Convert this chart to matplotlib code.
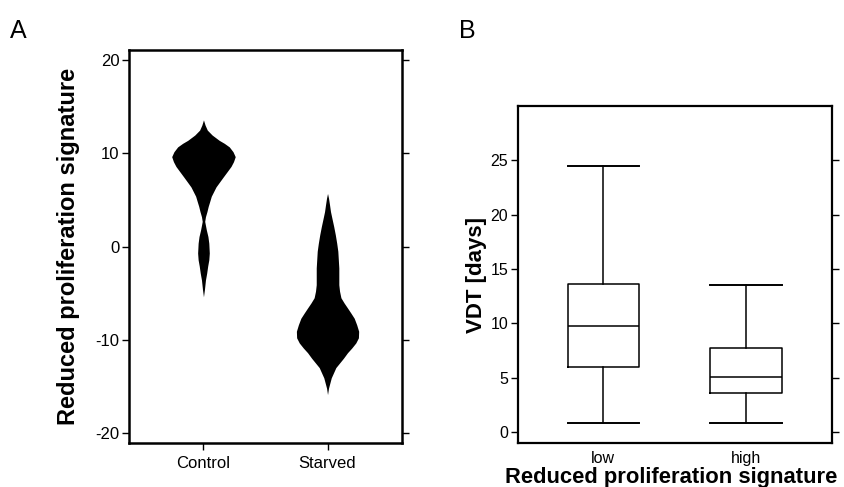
import matplotlib
matplotlib.use("Agg")
import matplotlib.pyplot as plt

plt.rcParams["font.family"] = ["Liberation Sans", "DejaVu Sans"]
plt.rcParams["axes.unicode_minus"] = False

# --- panel A: violin outlines (value, half-width in category units) ---
groups_a = ["Control", "Starved"]

control_y = [13.6, 13.04, 12.5, 11.97, 11.4, 11.08, 10.7, 10.18, 9.65, 9.11,
             8.6, 8.04, 7.5, 6.97, 6.4, 5.9, 5.4, 4.82, 4.3, 3.75, 3.2, 2.7,
             1.8, 1.07, 0.36, -0.7, -1.43, -2.1, -2.85, -3.6, -4.1, -4.6, -5.4]
control_hw = [0.0, 0.013, 0.031, 0.07, 0.127, 0.168, 0.208, 0.238, 0.256,
              0.242, 0.222, 0.191, 0.161, 0.132, 0.101, 0.082, 0.063, 0.05,
              0.038, 0.028, 0.016, 0.010, 0.023, 0.036, 0.043, 0.047, 0.043,
              0.034, 0.026, 0.016, 0.012, 0.008, 0.0]

starved_y = [5.7, 5.2, 4.5, 3.75, 3.0, 2.14, 1.25, 0.36, -0.5, -2.3, -4.1,
             -4.8, -5.5, -6.07, -6.6, -7.14, -7.7, -8.4, -9.1, -9.8, -10.35,
             -10.9, -11.4, -12.0, -13.0, -14.1, -15.2, -15.9]
starved_hw = [0.0, 0.008, 0.016, 0.024, 0.036, 0.05, 0.063, 0.074, 0.083,
              0.091, 0.091, 0.097, 0.108, 0.134, 0.161, 0.188, 0.215, 0.235,
              0.251, 0.249, 0.228, 0.195, 0.161, 0.128, 0.067, 0.030, 0.008,
              0.0]

# --- panel B: VDT box summaries ---
groups_b = ["low", "high"]
whislo = [0.86, 0.86]
q1 = [5.95, 3.6]
med = [9.8, 5.1]
q3 = [13.6, 7.75]
whishi = [24.5, 13.5]

fig = plt.figure(figsize=(8.45, 4.87), dpi=100)

# ---------------- A ----------------
ax1 = fig.add_axes([0.1527, 0.0903, 0.3230, 0.8070])
for pos, ys, hws in [(1, control_y, control_hw), (2, starved_y, starved_hw)]:
    left = [pos - h for h in hws]
    right = [pos + h for h in hws]
    ax1.fill_betweenx(ys, left, right, color="black", lw=0)

ax1.set_xlim(0.4, 2.6)
ax1.set_ylim(-21.1, 21.1)
ax1.set_xticks([1, 2])
ax1.set_xticklabels(groups_a, fontsize=12)
ax1.set_yticks([-20, -10, 0, 10, 20])
ax1.tick_params(axis="y", which="both", left=True, right=True, direction="out",
                length=5, width=1, labelsize=12, pad=2)
ax1.tick_params(axis="x", direction="out", length=5, width=1, pad=4)
for s in ax1.spines.values():
    s.set_linewidth(1.8)
ax1.set_ylabel("Reduced proliferation signature", fontsize=17,
               fontweight="bold")
ax1.yaxis.set_label_coords(-0.18, 0.5)

# ---------------- B ----------------
ax2 = fig.add_axes([0.6127, 0.0903, 0.3716, 0.6920])
stats = []
for i, name in enumerate(groups_b):
    stats.append({"label": name, "whislo": whislo[i], "q1": q1[i],
                  "med": med[i], "q3": q3[i], "whishi": whishi[i]})
line = {"color": "black", "linewidth": 1.1}
ax2.bxp(stats, positions=[1, 2], widths=0.5, capwidths=0.5, showfliers=False,
        boxprops=line, whiskerprops=line, medianprops=line,
        capprops={"color": "black", "linewidth": 1.4})

ax2.set_xlim(0.4, 2.6)
ax2.set_ylim(-1, 30)
ax2.set_yticks([0, 5, 10, 15, 20, 25])
ax2.tick_params(axis="y", left=True, right=True, direction="out",
                length=5, width=1, labelsize=11.5, pad=2)
ax2.tick_params(axis="x", length=0, labelsize=11.5, pad=6)
for s in ax2.spines.values():
    s.set_linewidth(1.6)
ax2.set_ylabel("VDT [days]", fontsize=16, fontweight="bold")
ax2.yaxis.set_label_coords(-0.099, 0.5)
ax2.set_xlabel("Reduced proliferation signature", fontsize=15.8,
               fontweight="bold", labelpad=0)
ax2.xaxis.set_label_coords(0.49, -0.072)

fig.text(0.012, 0.962, "A", fontsize=18, va="top", ha="left")
fig.text(0.543, 0.962, "B", fontsize=18, va="top", ha="left")

fig.savefig("out.png", dpi=100, facecolor="white")
